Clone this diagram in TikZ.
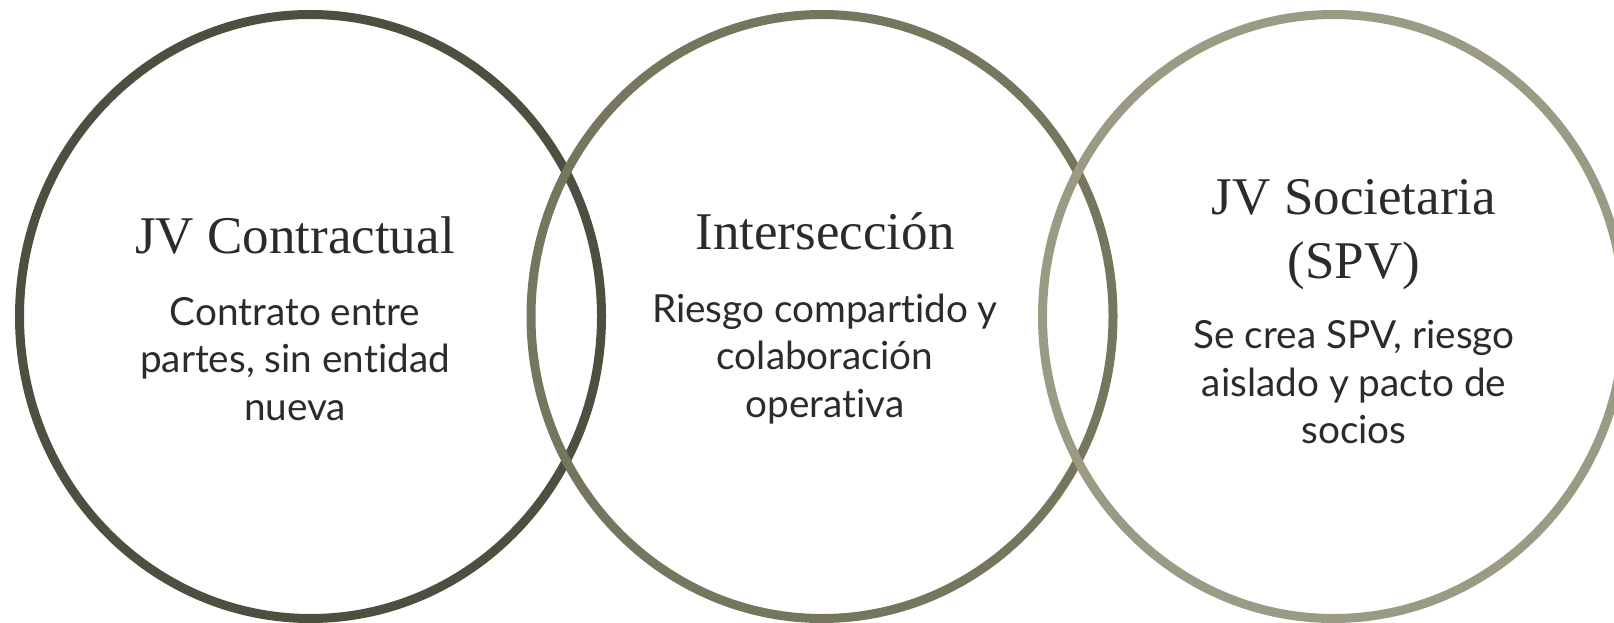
\documentclass[tikz,border=0pt]{standalone}
\usepackage{fontspec}
\setmainfont{Liberation Serif}
\newfontfamily\latofont[Ligatures=NoCommon]{Lato}
\usetikzlibrary{shapes.geometric}
\definecolor{ringa}{HTML}{4D4F40}
\definecolor{ringb}{HTML}{76765F}
\definecolor{ringc}{HTML}{9A9A85}
\definecolor{inktext}{HTML}{2B2B2B}
\tikzset{ring/.style = {draw, ellipse, line width=9pt, minimum width=582pt, minimum height=604pt, inner sep=0}}
\tikzset{ttl/.style = {anchor=base, align=center, text=inktext, inner sep=0, font=\fontsize{53}{63.5}\selectfont}}
\tikzset{txt/.style = {anchor=base, align=center, text=inktext, inner sep=0, font=\latofont\fontsize{38.7}{47.5}\selectfont}}

\begin{document}
\begin{tikzpicture}[x=1pt, y=-1pt]
      \useasboundingbox (0, 0) rectangle (1614, 623);
      \fill [white] (0, 0) rectangle (1614, 623);
      \node [ring, draw=ringa] (contractual) at (310.5, 316.5) {};
      \node [ring, draw=ringb] (interseccion) at (822, 316.5) {};
      \node [ring, draw=ringc] (societaria) at (1333.5, 316.5) {};
      \node [ttl] (contractualtitle) at (295, 253) {JV Contractual};
      \node [txt] (contractualtext) at (295, 420) {Contrato entre\\partes, sin entidad\\nueva};
      \node [ttl] (intertitle) at (825, 249) {Intersección};
      \node [txt] (intertext) at (825, 417) {Riesgo compartido y\\colaboración\\operativa};
      \node [ttl] (soctitle) at (1354, 278) {JV Societaria\\(SPV)};
      \node [txt] (soctext) at (1354, 443.6) {Se crea SPV, riesgo\\aislado y pacto de\\socios};
\end{tikzpicture}
\end{document}
